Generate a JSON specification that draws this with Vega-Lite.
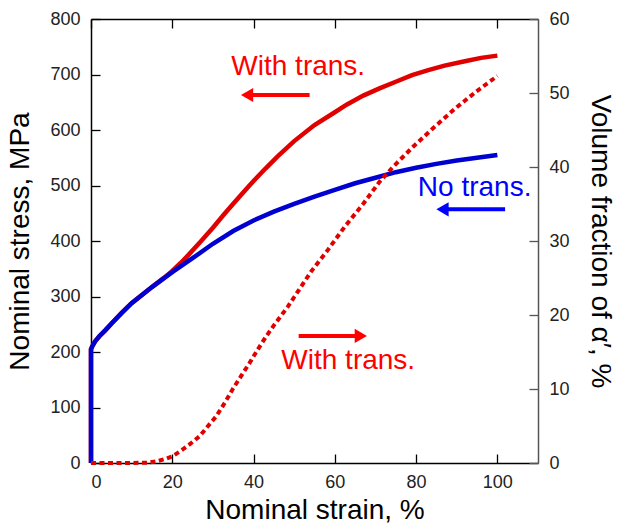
{
  "$schema": "https://vega.github.io/schema/vega-lite/v6.json",
  "width": 447,
  "height": 444,
  "autosize": {"type": "none"},
  "padding": {"left": 91, "top": 19, "right": 83, "bottom": 64},
  "background": "white",
  "config": {
    "view": {"stroke": null},
    "font": "Liberation Sans",
    "axis": {
      "grid": false,
      "domainColor": "#000000",
      "domainWidth": 1.5,
      "tickColor": "#000000",
      "tickWidth": 1.3,
      "tickSize": -9,
      "labelFont": "Liberation Sans",
      "labelFontSize": 18,
      "labelColor": "#222222",
      "titleFont": "Liberation Sans",
      "titleFontSize": 28,
      "titleFontWeight": "normal",
      "titleColor": "#000000"
    }
  },
  "datasets": {
    "stress": [
      {"series": "With trans.", "i": 0, "strain": 0, "stress": 0},
      {"series": "With trans.", "i": 1, "strain": 0, "stress": 205},
      {"series": "With trans.", "i": 2, "strain": 0.3, "stress": 210},
      {"series": "With trans.", "i": 3, "strain": 1, "stress": 219},
      {"series": "With trans.", "i": 4, "strain": 2, "stress": 228},
      {"series": "With trans.", "i": 5, "strain": 3.5, "stress": 239},
      {"series": "With trans.", "i": 6, "strain": 5, "stress": 251},
      {"series": "With trans.", "i": 7, "strain": 7.5, "stress": 270},
      {"series": "With trans.", "i": 8, "strain": 10, "stress": 288},
      {"series": "With trans.", "i": 9, "strain": 15, "stress": 317},
      {"series": "With trans.", "i": 10, "strain": 18, "stress": 334},
      {"series": "With trans.", "i": 11, "strain": 20, "stress": 346},
      {"series": "With trans.", "i": 12, "strain": 22, "stress": 360},
      {"series": "With trans.", "i": 13, "strain": 24, "stress": 375},
      {"series": "With trans.", "i": 14, "strain": 27, "stress": 399},
      {"series": "With trans.", "i": 15, "strain": 30, "stress": 424},
      {"series": "With trans.", "i": 16, "strain": 32.5, "stress": 446},
      {"series": "With trans.", "i": 17, "strain": 35, "stress": 467},
      {"series": "With trans.", "i": 18, "strain": 38, "stress": 492},
      {"series": "With trans.", "i": 19, "strain": 40, "stress": 508},
      {"series": "With trans.", "i": 20, "strain": 43, "stress": 531},
      {"series": "With trans.", "i": 21, "strain": 46, "stress": 553},
      {"series": "With trans.", "i": 22, "strain": 50, "stress": 580},
      {"series": "With trans.", "i": 23, "strain": 55, "stress": 609},
      {"series": "With trans.", "i": 24, "strain": 60, "stress": 632},
      {"series": "With trans.", "i": 25, "strain": 63, "stress": 646},
      {"series": "With trans.", "i": 26, "strain": 67, "stress": 662},
      {"series": "With trans.", "i": 27, "strain": 71, "stress": 675},
      {"series": "With trans.", "i": 28, "strain": 75, "stress": 687},
      {"series": "With trans.", "i": 29, "strain": 79, "stress": 699},
      {"series": "With trans.", "i": 30, "strain": 83, "stress": 708},
      {"series": "With trans.", "i": 31, "strain": 87, "stress": 716},
      {"series": "With trans.", "i": 32, "strain": 92, "stress": 724},
      {"series": "With trans.", "i": 33, "strain": 96, "stress": 730},
      {"series": "With trans.", "i": 34, "strain": 100, "stress": 734},
      {"series": "No trans.", "i": 0, "strain": 0, "stress": 0},
      {"series": "No trans.", "i": 1, "strain": 0, "stress": 205},
      {"series": "No trans.", "i": 2, "strain": 0.3, "stress": 210},
      {"series": "No trans.", "i": 3, "strain": 1, "stress": 219},
      {"series": "No trans.", "i": 4, "strain": 2, "stress": 228},
      {"series": "No trans.", "i": 5, "strain": 3.5, "stress": 239},
      {"series": "No trans.", "i": 6, "strain": 5, "stress": 251},
      {"series": "No trans.", "i": 7, "strain": 7.5, "stress": 270},
      {"series": "No trans.", "i": 8, "strain": 10, "stress": 288},
      {"series": "No trans.", "i": 9, "strain": 15, "stress": 317},
      {"series": "No trans.", "i": 10, "strain": 20, "stress": 344},
      {"series": "No trans.", "i": 11, "strain": 25, "stress": 369},
      {"series": "No trans.", "i": 12, "strain": 30, "stress": 395},
      {"series": "No trans.", "i": 13, "strain": 35, "stress": 418},
      {"series": "No trans.", "i": 14, "strain": 40, "stress": 437},
      {"series": "No trans.", "i": 15, "strain": 45, "stress": 453},
      {"series": "No trans.", "i": 16, "strain": 50, "stress": 467},
      {"series": "No trans.", "i": 17, "strain": 55, "stress": 480},
      {"series": "No trans.", "i": 18, "strain": 60, "stress": 492},
      {"series": "No trans.", "i": 19, "strain": 65, "stress": 504},
      {"series": "No trans.", "i": 20, "strain": 70, "stress": 514},
      {"series": "No trans.", "i": 21, "strain": 75, "stress": 524},
      {"series": "No trans.", "i": 22, "strain": 80, "stress": 532},
      {"series": "No trans.", "i": 23, "strain": 85, "stress": 539},
      {"series": "No trans.", "i": 24, "strain": 90, "stress": 545},
      {"series": "No trans.", "i": 25, "strain": 95, "stress": 550},
      {"series": "No trans.", "i": 26, "strain": 100, "stress": 555}
    ],
    "fraction": [
      {"strain": 0, "vf": 0},
      {"strain": 5, "vf": 0},
      {"strain": 10, "vf": 0},
      {"strain": 14, "vf": 0.05},
      {"strain": 16, "vf": 0.2},
      {"strain": 18, "vf": 0.5},
      {"strain": 20, "vf": 0.9},
      {"strain": 22, "vf": 1.6},
      {"strain": 24, "vf": 2.4},
      {"strain": 26.7, "vf": 3.6},
      {"strain": 28.5, "vf": 4.8},
      {"strain": 30.8, "vf": 6.3},
      {"strain": 33, "vf": 8.2},
      {"strain": 34.9, "vf": 10.0},
      {"strain": 37, "vf": 11.8},
      {"strain": 39, "vf": 13.5},
      {"strain": 41, "vf": 15.3},
      {"strain": 43.1, "vf": 17.1},
      {"strain": 45, "vf": 18.6},
      {"strain": 48.4, "vf": 21.1},
      {"strain": 50.1, "vf": 22.5},
      {"strain": 54.2, "vf": 25.9},
      {"strain": 58.3, "vf": 28.8},
      {"strain": 62.4, "vf": 31.9},
      {"strain": 67.1, "vf": 35.1},
      {"strain": 71, "vf": 38.0},
      {"strain": 74.3, "vf": 40.0},
      {"strain": 79.2, "vf": 42.7},
      {"strain": 84.1, "vf": 45.2},
      {"strain": 89.4, "vf": 47.8},
      {"strain": 94.8, "vf": 50.2},
      {"strain": 100, "vf": 52.3}
    ],
    "labels": [
      {"series": "With trans.", "strain": 51, "stress": 699},
      {"series": "No trans.", "strain": 94.4, "stress": 481},
      {"series": "With trans.", "strain": 63.3, "stress": 169}
    ],
    "arrows": [
      {"series": "With trans.", "dir": "left", "tail": 53.8, "head": 38.4, "stress": 663},
      {"series": "No trans.", "dir": "left", "tail": 101.9, "head": 86.5, "stress": 457},
      {"series": "With trans.", "dir": "right", "tail": 51.1, "head": 66.4, "stress": 229}
    ]
  },
  "layer": [
    {
      "layer": [
        {
          "data": {"name": "stress"},
          "transform": [{"filter": "datum.series === 'With trans.'"}],
          "mark": {"type": "line", "color": "#e00000", "strokeWidth": 4.5},
          "encoding": {
            "x": {"field": "strain", "type": "quantitative", "scale": {"domain": [0, 110], "nice": false},
              "title": "Nominal strain, %",
              "axis": {"orient": "bottom", "values": [0, 20, 40, 60, 80, 100], "labelPadding": 19, "titlePadding": 5}},
            "y": {"field": "stress", "type": "quantitative", "scale": {"domain": [0, 800], "nice": false},
              "title": "Nominal stress, MPa",
              "axis": {"orient": "left", "values": [0, 100, 200, 300, 400, 500, 600, 700, 800], "labelPadding": 20, "titlePadding": 15}},
            "order": {"field": "i", "type": "quantitative"}
          }
        },
        {
          "data": {"name": "stress"},
          "transform": [{"filter": "datum.series === 'No trans.'"}],
          "mark": {"type": "line", "color": "#0000d0", "strokeWidth": 4.5},
          "encoding": {
            "x": {"field": "strain", "type": "quantitative"},
            "y": {"field": "stress", "type": "quantitative"},
            "order": {"field": "i", "type": "quantitative"}
          }
        },
        {
          "data": {"name": "arrows"},
          "mark": {"type": "rule", "strokeWidth": 4},
          "encoding": {
            "x": {"field": "tail", "type": "quantitative"},
            "x2": {"field": "head"},
            "y": {"field": "stress", "type": "quantitative"},
            "color": {"field": "series", "type": "nominal", "scale": {"domain": ["With trans.", "No trans."], "range": ["#ff0000", "#0000ff"]}, "legend": null}
          }
        },
        {
          "data": {"name": "arrows"},
          "mark": {"type": "point", "filled": true, "opacity": 1, "size": 200},
          "encoding": {
            "x": {"field": "head", "type": "quantitative"},
            "y": {"field": "stress", "type": "quantitative"},
            "shape": {"field": "dir", "type": "nominal", "scale": {"domain": ["left", "right"], "range": ["triangle-left", "triangle-right"]}, "legend": null},
            "color": {"field": "series", "type": "nominal", "legend": null}
          }
        },
        {
          "data": {"name": "labels"},
          "mark": {"type": "text", "fontSize": 28, "font": "Liberation Sans", "align": "center", "baseline": "alphabetic"},
          "encoding": {
            "x": {"field": "strain", "type": "quantitative"},
            "y": {"field": "stress", "type": "quantitative"},
            "text": {"field": "series"},
            "color": {"field": "series", "type": "nominal", "legend": null}
          }
        }
      ]
    },
    {
      "data": {"name": "fraction"},
      "mark": {"type": "line", "color": "#e00000", "strokeWidth": 4, "strokeDash": [5, 3.5]},
      "encoding": {
        "x": {"field": "strain", "type": "quantitative", "scale": {"domain": [0, 110], "nice": false},
          "axis": {"orient": "top", "values": [0, 20, 40, 60, 80, 100], "labels": false, "title": null}},
        "y": {"field": "vf", "type": "quantitative", "scale": {"domain": [0, 60], "nice": false},
          "title": "Volume fraction of α′, %",
          "axis": {"orient": "right", "values": [0, 10, 20, 30, 40, 50, 60], "labelPadding": 20, "titlePadding": 16, "domainColor": "#555555", "tickColor": "#555555"}}
      }
    }
  ],
  "resolve": {"scale": {"y": "independent"}, "axis": {"x": "independent"}}
}
